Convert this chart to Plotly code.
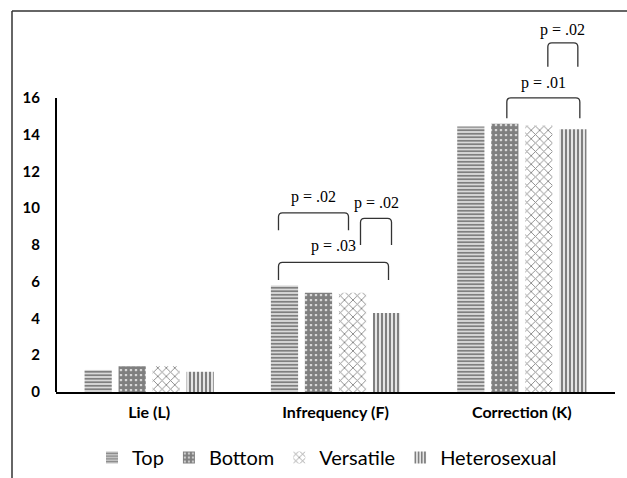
import plotly.graph_objects as go

categories = ["Lie (L)", "Infrequency (F)", "Correction (K)"]
series_names = ["Top", "Bottom", "Versatile", "Heterosexual"]
top_vals = [1.2, 5.8, 14.45]
bottom_vals = [1.4, 5.4, 14.6]
versatile_vals = [1.4, 5.4, 14.5]
hetero_vals = [1.1, 4.3, 14.3]
y_ticks = [0, 2, 4, 6, 8, 10, 12, 14, 16]

# significance brackets: (category, series a, series b, leg end, bracket level, label, label level, px offset a, px offset b)
brackets = [
    (1, 0, 2, 8.8, 9.75, "p = .02", 10.6, -6, -4),
    (1, 2, 3, 8.0, 9.45, "p = .02", 10.3, 8, 5),
    (1, 0, 3, 6.1, 7.05, "p = .03", 7.95, -6, 2),
    (2, 1, 3, 14.9, 16.0, "p = .01", 16.8, 2, 7),
    (2, 2, 3, 17.7, 19.0, "p = .02", 19.7, 9, 5),
]

all_vals = [top_vals, bottom_vals, versatile_vals, hetero_vals]
patterns = [
    dict(shape="-", size=3.5, solidity=0.65, fgcolor="black", bgcolor="white"),
    dict(shape=".", size=5, solidity=0.8, fgcolor="black", bgcolor="white"),
    dict(shape="x", size=6, solidity=0.28, fgcolor="#111111", bgcolor="white"),
    dict(shape="|", size=4, solidity=0.6, fgcolor="black", bgcolor="white"),
]

BARGAP = 0.27
GROUPGAP = 0.2
slot = (1 - BARGAP) / 4
L, R, T, B = 56, 12, 20, 86
W, H = 627, 478
pw = W - L - R
ph = H - T - B
px_x = 3.0 / pw  # axis units per pixel

fig = go.Figure()
for name, vals, pat in zip(series_names, all_vals, patterns):
    fig.add_trace(go.Bar(
        x=list(range(len(categories))), y=vals, name=name,
        marker=dict(color="white", pattern=pat, line=dict(width=0)),
    ))

def bar_center(ci, k):
    return ci + (k - 1.5) * slot

shapes = []
annotations = []
for ci, a, b, leg, lvl, lab, tl, oa, ob in brackets:
    x0 = bar_center(ci, a) + oa * px_x
    x1 = bar_center(ci, b) + ob * px_x
    r = 4 * px_x
    rv = 0.22
    path = (f"M {x0},{leg} L {x0},{lvl - rv} Q {x0},{lvl} {x0 + r},{lvl} "
            f"L {x1 - r},{lvl} Q {x1},{lvl} {x1},{lvl - rv} L {x1},{leg}")
    shapes.append(dict(type="path", path=path, xref="x", yref="y",
                       line=dict(color="#333333", width=1.3)))
    annotations.append(dict(x=(x0 + x1) / 2, y=tl, xref="x", yref="y", text=lab,
                            showarrow=False, font=dict(family="Liberation Serif", size=16, color="black")))

# y axis line up to 16 only
shapes.append(dict(type="line", xref="paper", yref="y", x0=0, x1=0, y0=0, y1=16,
                   line=dict(color="black", width=2)))
# outer frame lines (left and top)
fx = (12 - L) / pw
fy = (H - B - 11) / ph
shapes.append(dict(type="line", xref="paper", yref="paper", x0=fx, x1=fx, y0=-B / ph, y1=fy,
                   line=dict(color="#333333", width=1.5)))
shapes.append(dict(type="line", xref="paper", yref="paper", x0=fx, x1=1 + R / pw, y0=fy, y1=fy,
                   line=dict(color="#333333", width=1.5)))

fig.update_layout(
    width=W, height=H,
    margin=dict(l=L, r=R, t=T, b=B, autoexpand=False),
    paper_bgcolor="white", plot_bgcolor="white",
    barmode="group", bargap=BARGAP, bargroupgap=GROUPGAP,
    shapes=shapes, annotations=annotations,
    showlegend=True,
    legend=dict(orientation="h", x=(327 - L) / pw, xanchor="center", y=-(438 - (H - B)) / ph, yanchor="top",
                font=dict(family="Lato", size=20, color="black"), itemwidth=30,
                traceorder="normal"),
    xaxis=dict(tickmode="array", tickvals=list(range(len(categories))), ticktext=categories,
               range=[-0.5, 2.5], showline=True, linecolor="black", linewidth=2,
               showgrid=False, zeroline=False, ticks="", automargin=False,
               tickfont=dict(family="Lato", size=16, color="black", weight="bold"),
               ticklabelstandoff=5),
    yaxis=dict(range=[0, 20.24], tickvals=y_ticks, showline=False, showgrid=False, zeroline=False,
               ticks="", automargin=False,
               tickfont=dict(family="Lato", size=15, color="black", weight="bold"),
               ticklabelstandoff=15),
)

fig.write_html("out.html")
